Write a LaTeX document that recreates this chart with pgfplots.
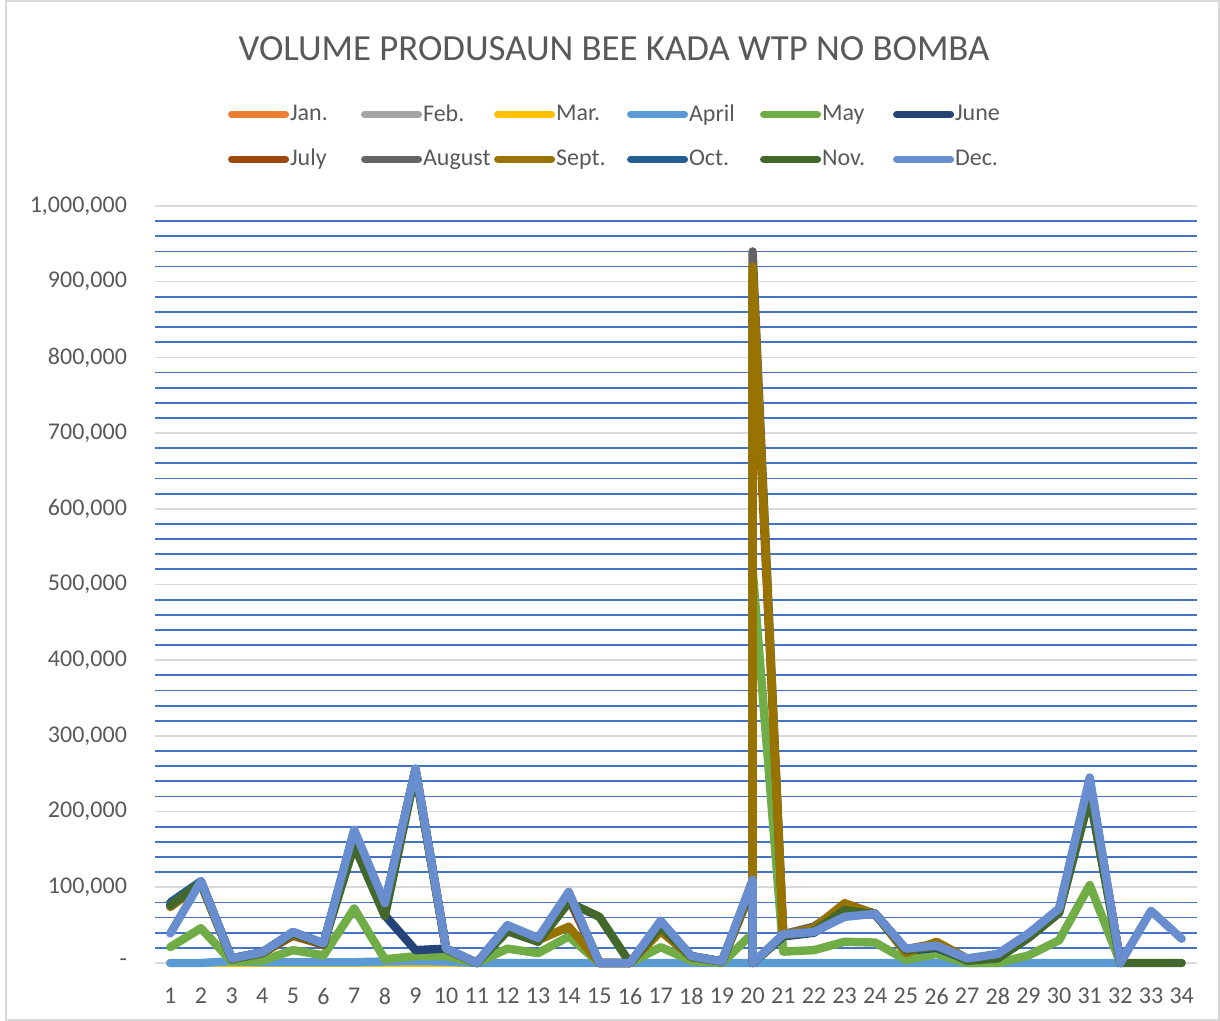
\documentclass[border=0pt]{standalone}
\usepackage{pgfplots}
\usepackage{pgfplotstable}
\pgfplotsset{compat=1.18}
\usepackage{fontspec}
\setmainfont{Carlito}

\definecolor{cJan}{HTML}{ED7D31}
\definecolor{cFeb}{HTML}{A5A5A5}
\definecolor{cMar}{HTML}{FFC000}
\definecolor{cApr}{HTML}{5B9BD5}
\definecolor{cMay}{HTML}{70AD47}
\definecolor{cJun}{HTML}{264478}
\definecolor{cJul}{HTML}{9E480E}
\definecolor{cAug}{HTML}{636363}
\definecolor{cSep}{HTML}{997300}
\definecolor{cOct}{HTML}{255E91}
\definecolor{cNov}{HTML}{43682B}
\definecolor{cDec}{HTML}{698ED0}
\definecolor{gridblue}{HTML}{4472C4}
\definecolor{gridgray}{HTML}{D9D9D9}
\definecolor{txt}{HTML}{595959}

% row 20 appears twice in the source sheet
\pgfplotstableread{
x  jan feb mar apr  may    jun    jul    aug    sep    oct    nov    dec
1  0   0   0   0    21000  76000  76000  76000  74000  80000  76000  39000
2  0   0   0   0    46000  107000 107000 107000 104000 108000 106000 108000
3  0   0   0   2500 2000   6000   6000   6000   5000   6000   5000   6000
4  0   0   0   1000 3000   14000  13000  14000  13000  14000  13000  14000
5  0   0   0   1000 17000  40000  36000  40000  38000  41000  39000  41000
6  0   0   0   1000 10000  25000  24000  25000  25000  26000  25000  26000
7  0   0   0   1000 72000  172000 170000 172000 168000 174000 155000 176000
8  0   0   0   2000 5000   63000  75000  77000  75000  78000  62000  79000
9  0   0   0   2500 9000   17000  255000 256000 255000 256000 252000 257000
10 0   0   0   2000 9000   19000  18000  19000  18000  19000  18000  19000
11 0   0   0   0    0      0      0      0      0      0      0      0
12 0   0   0   0    19000  48000  46000  48000  45000  49000  42000  50000
13 0   0   0   0    13000  31000  30000  31000  30000  32000  28000  33000
14 0   0   0   0    35000  90000  85000  90000  48000  92000  80000  94000
15 0   0   0   0    0      0      0      0      0      0      61000  0
16 0   0   0   0    0      0      0      0      0      0      0      0
17 0   0   0   0    21000  52000  45000  52000  42000  54000  48000  56000
18 0   0   0   0    3000   9000   8000   9000   8000   9000   8000   9000
19 0   0   0   0    0      2000   2000   2000   2000   2000   2000   2000
20 0   0   0   0    39000  105000 100000 100000 100000 108000 105000 110000
20 0   0   0   0    520000 0      900000 940000 920000 0      0      0
21 0   0   0   0    15000  35000  36000  38000  37000  36000  36000  38000
22 0   0   0   0    17000  40000  45000  48000  46000  41000  42000  41000
23 0   0   0   0    28000  65000  75000  76000  79000  66000  70000  61000
24 0   0   0   0    27000  64000  65000  65000  65000  65000  64000  65000
25 0   0   0   0    4000   16000  18000  17000  13000  18000  17000  19000
26 0   0   0   0    12000  20000  26000  24000  28000  22000  22000  23000
27 0   0   0   0    0      4000   5000   5000   6000   5000   3000   6000
28 0   0   0   0    0      9000   10000  10000  9000   10000  6000   12000
29 0   0   0   0    10000  35000  36000  36000  35000  37000  33000  39000
30 0   0   0   0    30000  68000  70000  70000  68000  70000  66000  72000
31 0   0   0   0    103000 235000 238000 238000 235000 240000 220000 245000
32 0   0   0   0    0      0      0      0      0      0      0      0
33 nan nan nan nan  nan    nan    nan    nan    nan    nan    0      69000
34 nan nan nan nan  nan    nan    nan    nan    nan    nan    0      32000
}\prodtable

\newcommand{\legtxt}[1]{\makebox[35pt][l]{#1}}

\begin{document}
\begin{tikzpicture}
  \useasboundingbox (0,0) rectangle (610pt,510.5pt);
  \draw[gridgray, line width=0.8pt] (3pt,0.5pt) rectangle (609.5pt,510pt);
  \node[text=txt, font=\fontsize{18.4}{21}\selectfont] at (307pt,486pt)
    {VOLUME PRODUSAUN BEE KADA WTP NO BOMBA};
  \begin{axis}[at={(77.5pt,29pt)}, anchor=south west, scale only axis,
      width=521pt, height=378.5pt,
      xmin=0.5, xmax=34.5, ymin=0, ymax=1000000,
      xtick={1,...,34}, ytick={0,100000,...,1000000},
      yticklabels={-,{100,000},{200,000},{300,000},{400,000},{500,000},
        {600,000},{700,000},{800,000},{900,000},{1,000,000}},
      minor y tick num=4, ymajorgrids, yminorgrids,
      major grid style={gridgray, line width=0.8pt},
      minor grid style={gridblue, line width=0.9pt},
      axis line style={draw=none}, major tick length=0pt, minor tick length=0pt,
      scaled y ticks=false, clip=false, unbounded coords=jump,
      /pgf/number format/assume math mode=true,
      ticklabel style={text=txt, font=\fontsize{12}{14}\selectfont},
      yticklabel style={xshift=-10.5pt},
      xticklabel style={yshift=-9pt},
      every axis plot/.append style={line width=4.2pt, line join=round, line cap=round},
      legend columns=6,
      legend style={draw=none, fill=none, at={(0.064,1.145)}, anchor=north west,
        font=\fontsize{12}{14}\selectfont, text=txt, row sep=8.5pt,
        /tikz/every odd column/.style={column sep=0pt},
        nodes={inner xsep=0.5pt}},
      legend image code/.code={\draw[#1, line width=3.5pt, line cap=round] (0pt,0pt) -- (27pt,0pt);},
    ]
    \addplot[cJan] table[x=x, y=jan] {\prodtable};
    \addplot[cFeb] table[x=x, y=feb] {\prodtable};
    \addplot[cMar] table[x=x, y=mar] {\prodtable};
    \addplot[cApr] table[x=x, y=apr] {\prodtable};
    \addplot[cMay] table[x=x, y=may] {\prodtable};
    \addplot[cJun] table[x=x, y=jun] {\prodtable};
    \addplot[cJul] table[x=x, y=jul] {\prodtable};
    \addplot[cAug] table[x=x, y=aug] {\prodtable};
    \addplot[cSep] table[x=x, y=sep] {\prodtable};
    \addplot[cOct] table[x=x, y=oct] {\prodtable};
    \addplot[cNov] table[x=x, y=nov] {\prodtable};
    \addplot[cDec] table[x=x, y=dec] {\prodtable};
    \legend{\legtxt{Jan.},\legtxt{Feb.},\legtxt{Mar.},\legtxt{April},\legtxt{May},\legtxt{June},
      \legtxt{July},\legtxt{August},\legtxt{Sept.},\legtxt{Oct.},\legtxt{Nov.},\legtxt{Dec.}}
  \end{axis}
\end{tikzpicture}
\end{document}
